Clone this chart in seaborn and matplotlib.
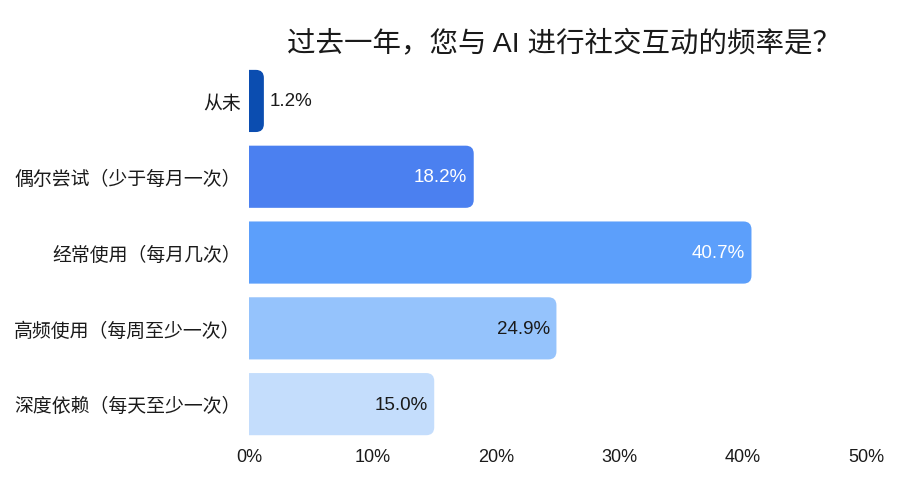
import matplotlib
matplotlib.use('Agg')
import matplotlib.pyplot as plt
import seaborn as sns
import pandas as pd
from matplotlib.patches import FancyBboxPatch

# Datos
categorias = ['从未', '偶尔尝试（少于每月一次）', '经常使用（每月几次）',
              '高频使用（每周至少一次）', '深度依赖（每天至少一次）']
porcentajes = [1.2, 18.2, 40.7, 24.9, 15.0]
colores = ['#0B4DB0', '#4B80F0', '#5C9FFB', '#95C3FC', '#C4DDFC']
color_texto = ['#1a1a1a', 'white', 'white', '#1a1a1a', '#1a1a1a']
ticks_x = [0, 10, 20, 30, 40, 50]
titulo = '过去一年，您与 AI 进行社交互动的频率是？'

sns.set_theme(style='white')
plt.rcParams['font.family'] = ['Liberation Sans', 'Noto Sans CJK SC', 'DejaVu Sans']

df = pd.DataFrame({'categoria': categorias, 'pct': porcentajes})

fig = plt.figure(figsize=(9.09, 4.89), dpi=100)
ax = fig.add_axes([0.274, 0.094, 0.679, 0.775])

sns.barplot(data=df, x='pct', y='categoria', hue='categoria', palette=colores,
            legend=False, width=0.82, ax=ax, saturation=1)

ax.set_xlim(0, 50)
ax.set_xticks(ticks_x)
ax.set_xticklabels([f'{t}%' for t in ticks_x])
ax.set_xlabel('')
ax.set_ylabel('')
for s in ax.spines.values():
    s.set_visible(False)
ax.tick_params(axis='x', length=0, pad=4, labelsize=13, colors='#1a1a1a')
ax.tick_params(axis='y', length=0, pad=6, labelsize=13.6, colors='#1a1a1a')
ax.set_title(titulo, fontsize=20.5, color='#1a1a1a', pad=9, x=0.51)

# Redondear las esquinas derechas de las barras
fig.canvas.draw()
px_x = ax.transData.transform((1, 0))[0] - ax.transData.transform((0, 0))[0]
px_y = abs(ax.transData.transform((0, 1))[1] - ax.transData.transform((0, 0))[1])
aspecto = px_x / px_y
radio = 8 / px_x

for barra, col in zip(list(ax.patches), colores):
    x0, y0 = barra.get_x(), barra.get_y()
    w, h = barra.get_width(), barra.get_height()
    barra.remove()
    caja = FancyBboxPatch((x0 - radio, y0), w + radio, h,
                          boxstyle=f'round,pad=0,rounding_size={radio}',
                          mutation_aspect=aspecto, facecolor=col,
                          edgecolor='none')
    ax.add_patch(caja)

# Etiquetas de valor
for i, (v, tc) in enumerate(zip(porcentajes, color_texto)):
    if v < 5:
        ax.text(v + 0.5, i, f'{v:.1f}%', va='center', ha='left',
                fontsize=13.5, color=tc)
    else:
        ax.text(v - 0.55, i, f'{v:.1f}%', va='center', ha='right',
                fontsize=13.5, color=tc)

plt.savefig('out.png', dpi=100, facecolor='white')
plt.close()
